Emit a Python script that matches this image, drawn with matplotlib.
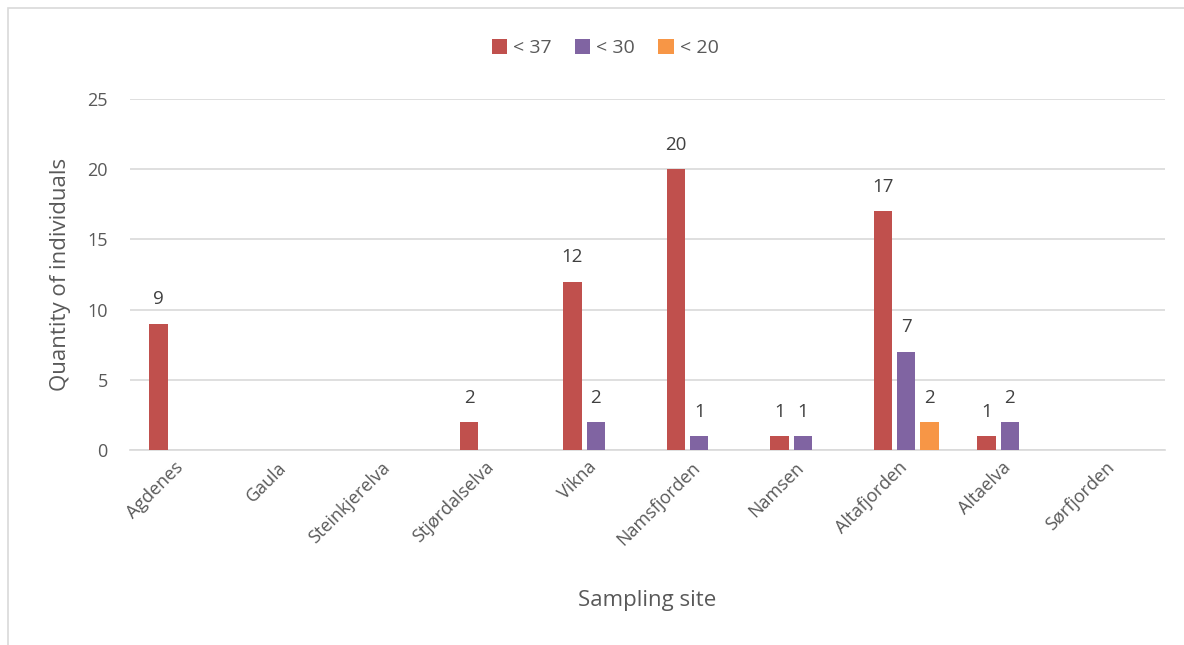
import numpy as np
import matplotlib.pyplot as plt
from matplotlib.patches import Rectangle
from matplotlib.transforms import ScaledTranslation

plt.rcParams['font.family'] = ['Open Sans', 'DejaVu Sans']

sites = ['Agdenes', 'Gaula', 'Steinkjerelva', 'Stjørdalselva', 'Vikna',
         'Namsfjorden', 'Namsen', 'Altafjorden', 'Altaelva', 'Sørfjorden']
lt37 = [9, 0, 0, 2, 12, 20, 1, 17, 1, 0]
lt30 = [0, 0, 0, 0, 2, 1, 1, 7, 2, 0]
lt20 = [0, 0, 0, 0, 0, 0, 0, 2, 0, 0]
series_names = ['< 37', '< 30', '< 20']
colors = ['#C0504D', '#8064A2', '#F79646']
yticks = [0, 5, 10, 15, 20, 25]

fig = plt.figure(figsize=(11.84, 6.45), dpi=100)
fig.patches.append(Rectangle((8 / 1184, -0.1), 1.2, 1 - 8 / 645 + 0.1,
                             transform=fig.transFigure, fill=False,
                             edgecolor='#D9D9D9', linewidth=1.2))
ax = fig.add_axes([130 / 1184, 1 - 450 / 645, 1035 / 1184, 351 / 645])

x = np.arange(len(sites))
w = 0.175
offs = [-0.225, 0, 0.225]
for vals, off, c, name in zip([lt37, lt30, lt20], offs, colors, series_names):
    bars = ax.bar(x + off, vals, w, color=c, label=name, zorder=3)
    for b, v in zip(bars, vals):
        if v > 0:
            ax.annotate(str(v), (b.get_x() + b.get_width() / 2, v),
                        xytext=(0, 11), textcoords='offset points',
                        ha='center', va='bottom', fontsize=13.5, color='#404040')

ax.set_xlim(-0.5, len(sites) - 0.5)
ax.set_ylim(0, 25)
ax.set_yticks(yticks)
ax.grid(axis='y', color='#D9D9D9', linewidth=1.2, zorder=0)
for s in ['top', 'right', 'left']:
    ax.spines[s].set_visible(False)
ax.spines['bottom'].set_color('#D9D9D9')
ax.spines['bottom'].set_linewidth(1.2)
ax.tick_params(axis='both', length=0, labelsize=13, colors='#595959', pad=16)
ax.tick_params(axis='x', pad=6)
ax.set_xticks(x)
ax.set_xticklabels(sites, rotation=45, ha='right', rotation_mode='anchor')
shift = ScaledTranslation(-8 / 100, 0, fig.dpi_scale_trans)
for lbl in ax.get_xticklabels():
    lbl.set_transform(lbl.get_transform() + shift)
ax.set_ylabel('Quantity of individuals', fontsize=16, color='#595959', labelpad=12)
ax.set_xlabel('Sampling site', fontsize=16, color='#595959', labelpad=30)

ax.legend(loc='lower center', bbox_to_anchor=(0.459, 1.07), ncol=3, frameon=False,
          fontsize=14, labelcolor='#595959', handlelength=0.8, handleheight=0.8,
          handletextpad=0.3, columnspacing=1.2)

fig.savefig('out.png', dpi=100)
